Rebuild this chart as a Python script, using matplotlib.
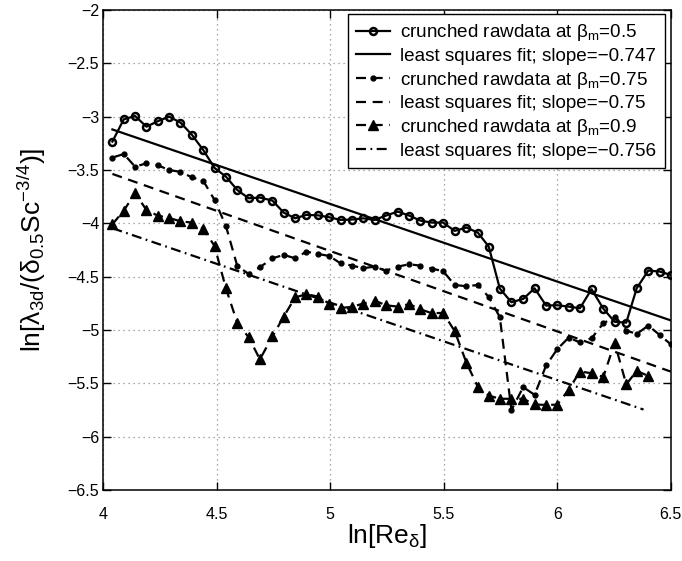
import matplotlib
matplotlib.use('Agg')
import matplotlib.pyplot as plt

plt.rcParams['font.family'] = ['Liberation Sans', 'DejaVu Sans']
plt.rcParams['mathtext.default'] = 'regular'

# ln[Re_delta] positions of the crunched raw data
x_raw = [4.04, 4.09, 4.14, 4.19, 4.24, 4.29, 4.34, 4.39, 4.44, 4.49,
         4.54, 4.59, 4.64, 4.69, 4.745, 4.795, 4.845, 4.895, 4.945, 4.995,
         5.045, 5.095, 5.145, 5.195, 5.245, 5.297, 5.348, 5.397, 5.447, 5.497,
         5.548, 5.60, 5.65, 5.698, 5.747, 5.798, 5.85, 5.90, 5.951, 6.00,
         6.05, 6.10, 6.151, 6.203, 6.253, 6.304, 6.35, 6.401, 6.451, 6.50]

# beta_m = 0.5
y_05 = [-3.234, -3.025, -2.994, -3.094, -3.043, -3.000, -3.056, -3.169, -3.312, -3.481,
        -3.562, -3.687, -3.765, -3.759, -3.787, -3.900, -3.953, -3.921, -3.925, -3.943,
        -3.968, -3.965, -3.953, -3.968, -3.928, -3.890, -3.928, -3.975, -3.993, -3.993,
        -4.071, -4.040, -4.087, -4.218, -4.612, -4.740, -4.709, -4.609, -4.771, -4.768,
        -4.781, -4.796, -4.618, -4.800, -4.924, -4.931, -4.609, -4.443, -4.452, -4.484]

# beta_m = 0.75
y_075 = [-3.384, -3.350, -3.469, -3.437, -3.456, -3.500, -3.518, -3.568, -3.600, -3.781,
         -4.024, -4.399, -4.474, -4.412, -4.328, -4.296, -4.328, -4.265, -4.287, -4.306,
         -4.375, -4.396, -4.421, -4.406, -4.443, -4.406, -4.384, -4.397, -4.425, -4.448,
         -4.578, -4.590, -4.578, -4.690, -4.880, -5.750, -5.536, -5.608, -5.332, -5.180,
         -5.072, -5.117, -5.078, -4.937, -4.880, -5.005, -5.037, -4.959, -5.046, -5.134]

# beta_m = 0.9 (stops at 6.4)
y_09 = [-4.009, -3.881, -3.718, -3.875, -3.928, -3.950, -3.981, -3.993, -4.050, -4.212,
        -4.609, -4.931, -5.068, -5.275, -5.060, -4.874, -4.695, -4.664, -4.687, -4.752,
        -4.793, -4.784, -4.752, -4.724, -4.768, -4.781, -4.758, -4.806, -4.843, -4.840,
        -5.010, -5.308, -5.533, -5.615, -5.645, -5.645, -5.645, -5.698, -5.703, -5.700,
        -5.560, -5.390, -5.405, -5.440, -5.120, -5.510, -5.383, -5.431]

# least squares fits (end points)
fit_05_x = [4.04, 6.50]
fit_05_y = [-3.12, -4.91]
fit_075_x = [4.04, 6.50]
fit_075_y = [-3.537, -5.39]
fit_09_x = [4.04, 6.38]
fit_09_y = [-4.046, -5.746]

labels = ['crunched rawdata at β$_m$=0.5',
          'least squares fit; slope=\u22120.747',
          'crunched rawdata at β$_m$=0.75',
          'least squares fit; slope=\u22120.75',
          'crunched rawdata at β$_m$=0.9',
          'least squares fit; slope=\u22120.756']

fig = plt.figure(figsize=(6.82, 5.61), dpi=100)
ax = fig.add_axes([0.1515, 0.1266, 0.832, 0.8556])

dash = (4.5, 3)
ax.plot(x_raw, y_05, '-o', color='k', lw=1.6, ms=5, mfc='none', mew=1.8, label=labels[0])
ax.plot(fit_05_x, fit_05_y, '-', color='k', lw=1.6, label=labels[1])
ax.plot(x_raw, y_075, '--', marker='.', color='k', lw=1.6, ms=7, dashes=dash, label=labels[2])
ax.plot(fit_075_x, fit_075_y, '--', color='k', lw=1.6, dashes=dash, label=labels[3])
ax.plot(x_raw[:len(y_09)], y_09, '--', marker='^', color='k', lw=1.6, ms=6.5, dashes=dash, label=labels[4])
ax.plot(fit_09_x, fit_09_y, '-.', color='k', lw=1.6, dashes=(4.5, 2, 0.8, 2), label=labels[5])

ax.set_xlim(4, 6.5)
ax.set_ylim(-6.5, -2)
ax.set_xticks([4, 4.5, 5, 5.5, 6, 6.5])
ax.set_xticklabels(['4', '4.5', '5', '5.5', '6', '6.5'])
yt = [-6.5, -6, -5.5, -5, -4.5, -4, -3.5, -3, -2.5, -2]
ax.set_yticks(yt)
ax.set_yticklabels(['\u22126.5', '\u22126', '\u22125.5', '\u22125', '\u22124.5', '\u22124',
                    '\u22123.5', '\u22123', '\u22122.5', '\u22122'])
ax.tick_params(direction='in', length=6, width=1, top=True, right=True, labelsize=11.5, pad=3)
ax.tick_params(axis='x', pad=12)
ax.grid(True, linestyle=(0, (1, 3)), color='0.55', linewidth=0.9)
for s in ax.spines.values():
    s.set_linewidth(1.1)

ax.set_xlabel('ln[Re$_δ$]', fontsize=19, labelpad=0)
ax.set_ylabel('ln[λ$_{3d}$/(δ$_{0.5}$Sc$^{\u22123/4}$)]', fontsize=19)
ax.yaxis.set_label_coords(-0.0975, 0.5)

leg = ax.legend(loc='upper right', bbox_to_anchor=(0.99, 0.992), borderaxespad=0,
                fontsize=13.6, handlelength=1.8, labelspacing=0.24, fancybox=False,
                edgecolor='k', framealpha=1, borderpad=0.45, handletextpad=0.55)
leg.get_frame().set_linewidth(1.0)

fig.savefig('out.png', dpi=100)
